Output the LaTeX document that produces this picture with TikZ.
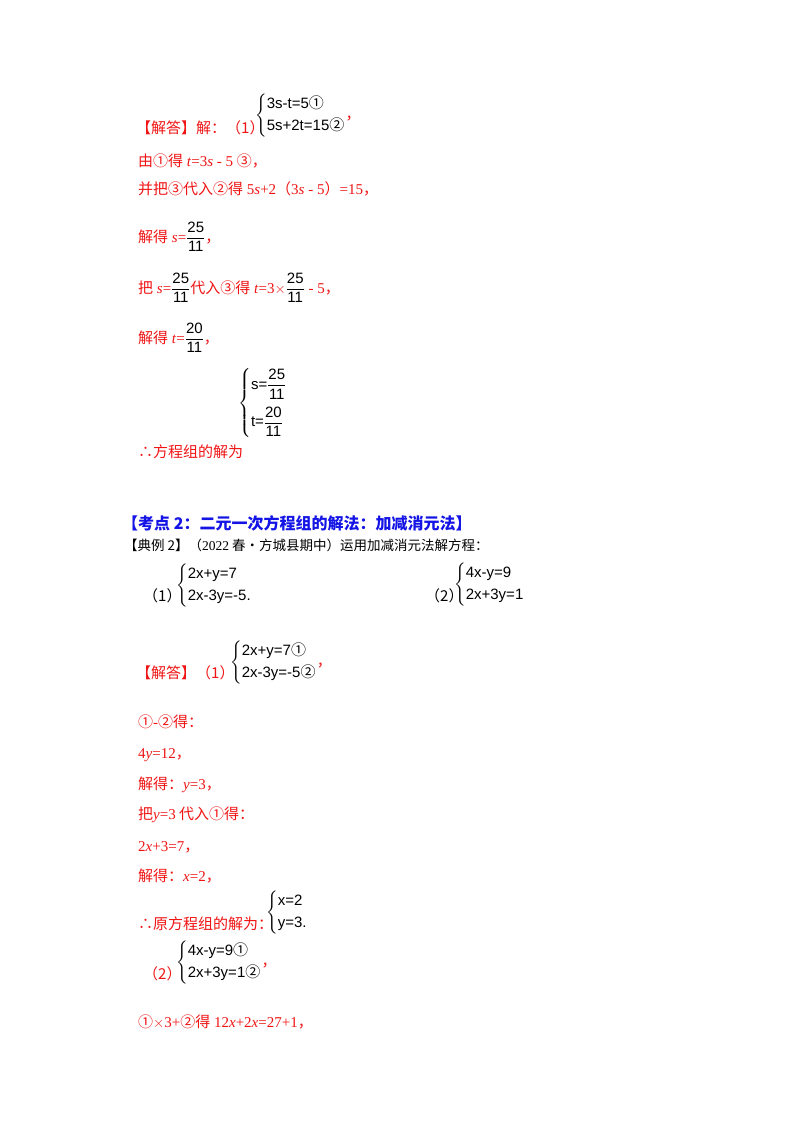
\documentclass[tikz,border=0pt]{standalone}
\usepackage{amsmath}
\usepackage{fontspec}
\setmainfont{Liberation Serif}
\setsansfont{Liberation Sans}
\newfontfamily\cjk{Noto Sans CJK SC}
\newcommand{\zh}[1]{{\cjk #1}}
\newcommand{\cm}{\zh{，}}
\newcommand{\sysb}[2]{$\left\{\begin{array}{@{}l@{}}\textsf{#1}\\[4pt]\textsf{#2}\end{array}\right.$}
\newcommand{\fr}[2]{$\dfrac{\textsf{#1}}{\textsf{#2}}$}
\definecolor{rd}{RGB}{240,20,20}
\definecolor{bl}{RGB}{20,20,230}
\begin{document}
\begin{tikzpicture}[x=1pt,y=-1pt,
  t/.style={anchor=base west,inner sep=0pt,font=\fontsize{15}{18}\selectfont},
  r/.style={t,text=rd},
  k/.style={t,text=black},
  m/.style={anchor=west,inner sep=0pt,font=\fontsize{15}{18}\selectfont}]
\useasboundingbox[fill=white] (0,0) rectangle (800,1132);
\node[r] (a1) at (136,133) {\zh{【解答】解：（1）}};
\node[m] (s1) at (255,116) {\sysb{3s-t=5\zh{①}}{5s+2t=15\zh{②}}\textcolor{rd}{\cm}};
\node[r] (a2) at (138,166) {\zh{由①得} \textit{t}=3\textit{s} - 5 \zh{③}\cm};
\node[r] (a3) at (138,194) {\zh{并把③代入②得} 5\textit{s}+2\zh{（}3\textit{s} - 5\zh{）}=15\cm};
\node[r] (a4) at (138,242) {\zh{解得} \textit{s}=\textcolor{black}{\fr{25}{11}}\cm};
\node[r] (a5) at (138,293) {\zh{把} \textit{s}=\textcolor{black}{\fr{25}{11}}\zh{代入③得} \textit{t}=3$\times$\textcolor{black}{\fr{25}{11}} - 5\cm};
\node[r] (a6) at (138,343) {\zh{解得} \textit{t}=\textcolor{black}{\fr{20}{11}}\cm};
\node[m] (s2) at (238,403) {$\left\{\begin{array}{@{}l@{}}\textsf{s=}\dfrac{\textsf{25}}{\textsf{11}}\\[12pt]\textsf{t=}\dfrac{\textsf{20}}{\textsf{11}}\end{array}\right.$};
\node[r] (a7) at (138,457) {\zh{∴方程组的解为}};
\node[t,text=bl,font=\fontsize{16}{18}\selectfont] (h) at (122,529) {\zh{\bfseries 【考点 2：二元一次方程组的解法：加减消元法】}};
\node[k,font=\fontsize{13.5}{15}\selectfont] (e) at (124,550) {\zh{【典例 2】（}2022\zh{ 春•方城县期中）运用加减消元法解方程：}};
\node[k] (q1) at (143,601) {\zh{（1）}};
\node[m] (qs1) at (176,586) {\sysb{2x+y=7}{2x-3y=-5.}};
\node[k] (q2) at (425,601) {\zh{（2）}};
\node[m] (qs2) at (454,585) {\sysb{4x-y=9}{2x+3y=1}};
\node[r] (b1) at (136,678) {\zh{【解答】（1）}};
\node[m] (bs1) at (230,663) {\sysb{2x+y=7\zh{①}}{2x-3y=-5\zh{②}}\textcolor{rd}{\cm}};
\node[r] (b2) at (138,727) {\zh{①}-\zh{②得：}};
\node[r] (b3) at (138,758) {4\textit{y}=12\cm};
\node[r] (b4) at (138,789) {\zh{解得：}\textit{y}=3\cm};
\node[r] (b5) at (138,819) {\zh{把}\textit{y}=3\zh{ 代入①得：}};
\node[r] (b6) at (138,851) {2\textit{x}+3=7\cm};
\node[r] (b7) at (138,881) {\zh{解得：}\textit{x}=2\cm};
\node[r] (b8) at (138,929) {\zh{∴原方程组的解为：}};
\node[m] (bs8) at (266,913) {\sysb{x=2}{y=3.}};
\node[r] (c1) at (143,979) {\zh{（2）}};
\node[m] (cs1) at (176,963) {\sysb{4x-y=9\zh{①}}{2x+3y=1\zh{②}}\textcolor{rd}{\cm}};
\node[r] (c2) at (138,1027) {\zh{①}$\times$3+\zh{②得} 12\textit{x}+2\textit{x}=27+1\cm};
\end{tikzpicture}
\end{document}
